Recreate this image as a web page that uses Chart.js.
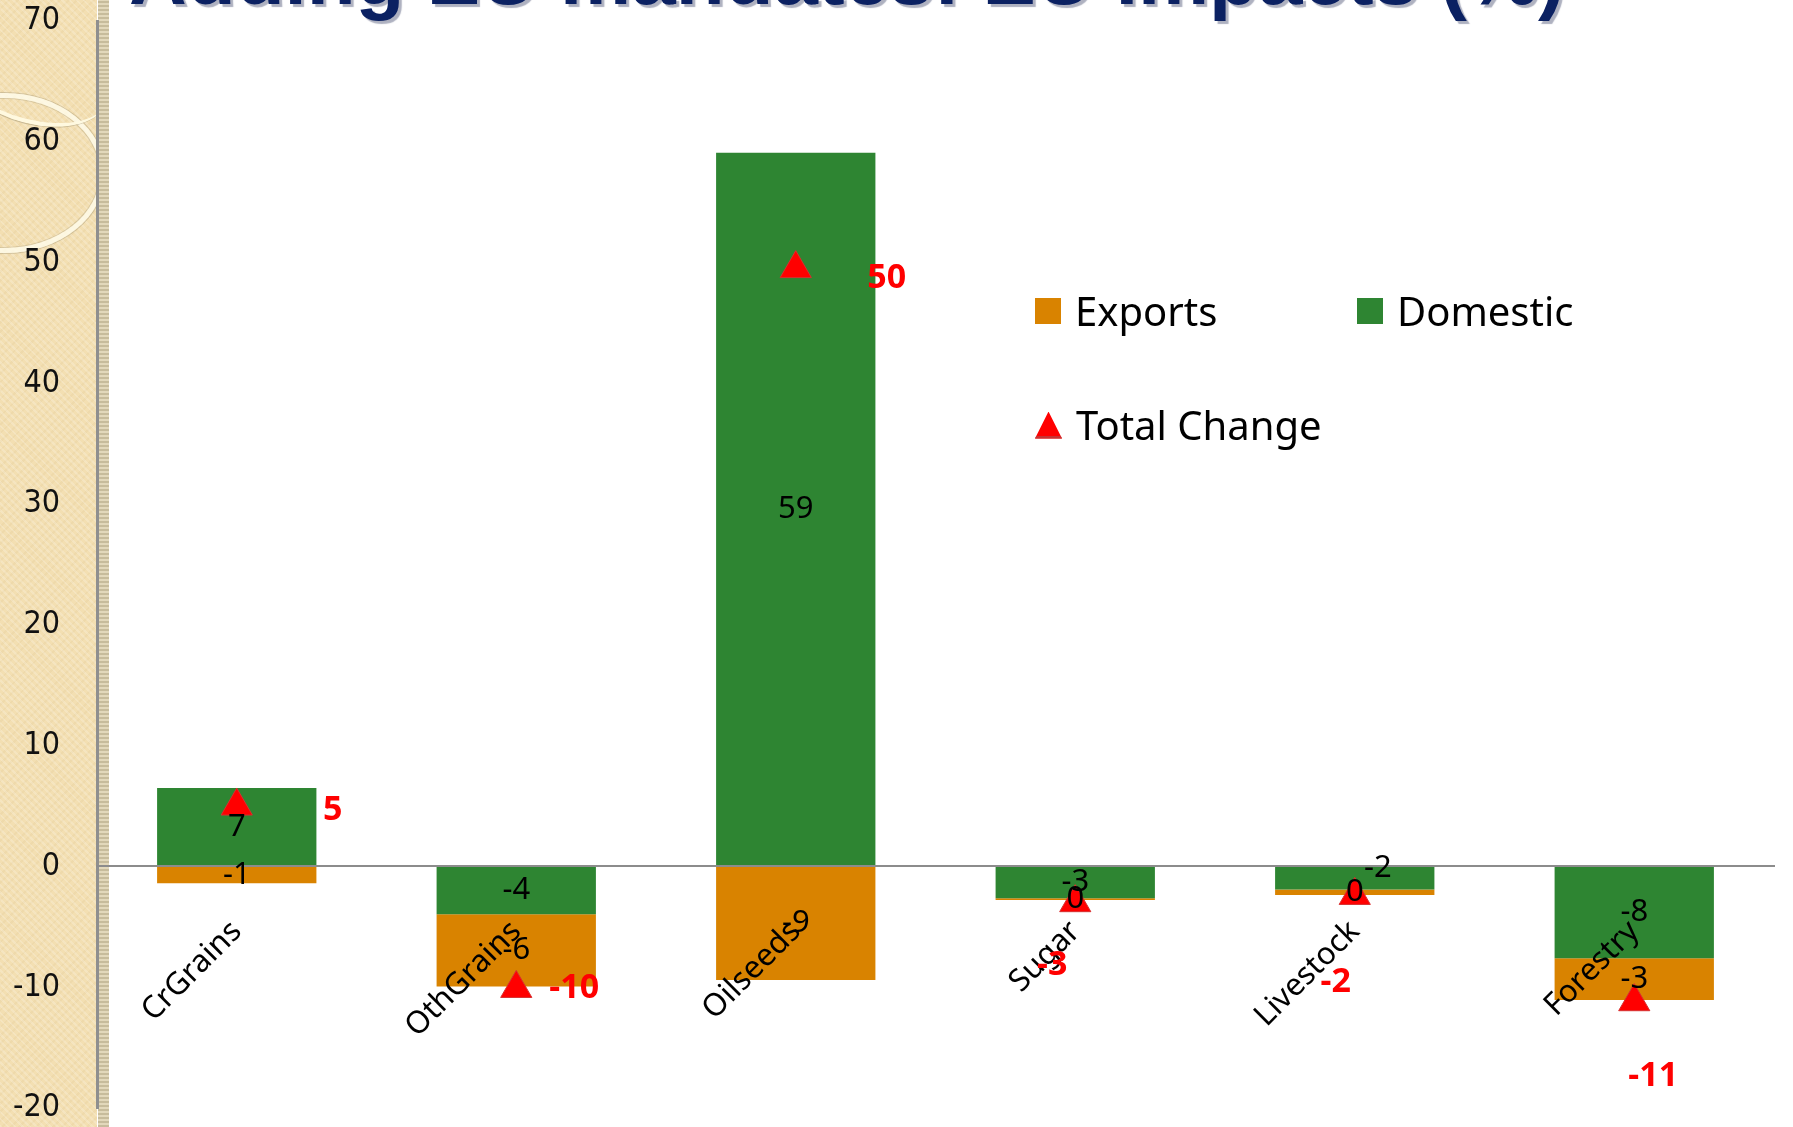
<!DOCTYPE html>
<html lang="en">
<head>
  <meta charset="UTF-8" />
  <title>Adding EU mandates: EU Impacts (%)</title>
  <script src="https://cdn.jsdelivr.net/npm/chart.js@4.4.1/dist/chart.umd.min.js"></script>
  <style>
    html, body {
      margin: 0;
      padding: 0;
      width: 1793px;
      height: 1127px;
      overflow: hidden;
      background: #fff;
    }

    /* beige side strip of the slide template */
    .strip {
      position: absolute;
      left: 0;
      top: 0;
      width: 97px;
      height: 1127px;
      overflow: hidden;
      background-color: #f3dfb2;
      background-image:
        repeating-linear-gradient(45deg, rgba(255,255,255,0.18) 0 2px, rgba(0,0,0,0) 2px 5px),
        repeating-linear-gradient(-45deg, rgba(200,170,110,0.10) 0 2px, rgba(0,0,0,0) 2px 6px);
    }
    .band {
      position: absolute;
      left: 98px;
      top: 0;
      width: 11px;
      height: 1127px;
      background: repeating-linear-gradient(0deg, #c7bc9c 0 2px, #e2d8bb 2px 4px);
    }
    .ring {
      position: absolute;
      left: -95px;
      top: 93px;
      width: 190px;
      height: 150px;
      border-radius: 50%;
      border: 5px solid rgba(255, 252, 236, 0.8);
      box-shadow: 0 0 0 1px rgba(170, 158, 125, 0.45), inset 0 0 0 1px rgba(170, 158, 125, 0.35);
    }
    .swoosh {
      position: absolute;
      left: -40px;
      top: 40px;
      width: 150px;
      height: 80px;
      border-radius: 50%;
      border-bottom: 4px solid rgba(255, 250, 225, 0.95);
      box-shadow: 0 2px 0 -1px rgba(160, 148, 115, 0.5);
      transform: rotate(14deg);
    }

    canvas {
      position: absolute;
      left: 0;
      top: 0;
    }

    /* title, top half is cut off in the original */
    .title {
      position: absolute;
      left: 129px;
      top: -63px;
      font: bold 80px 'Liberation Sans', Arial, sans-serif;
      line-height: 80px;
      color: #0b2162;
      text-shadow: 3px 3px 1px rgba(120, 125, 150, 0.6);
      white-space: nowrap;
    }

    /* legend inside the plot area */
    .legend-item {
      position: absolute;
      height: 40px;
      display: flex;
      align-items: center;
      gap: 14px;
      font: 40px 'Noto Sans', sans-serif;
      line-height: 40px;
      color: #000;
      white-space: nowrap;
    }
    .legend-item .sq {
      width: 26px;
      height: 26px;
    }
    .legend-item .tri {
      width: 27px;
      height: 27px;
      background: #ff0000;
      clip-path: polygon(50% 0, 100% 100%, 0 100%);
      box-shadow: inset 0 -3px 0 #c83232;
    }
  </style>
</head>
<body>
  <div class="strip"><div class="ring"></div><div class="swoosh"></div></div>
  <div class="band"></div>

  <canvas id="impactChart" width="1793" height="1127"></canvas>

  <div class="title">Adding EU mandates: EU Impacts (%)</div>

  <div class="legend-item" style="left:1035px; top:291px;"><span class="sq" style="background:#D98300"></span>Exports</div>
  <div class="legend-item" style="left:1357px; top:291px;"><span class="sq" style="background:#2E8532"></span>Domestic</div>
  <div class="legend-item" style="left:1035px; top:405px;"><span class="tri"></span>Total Change</div>

  <script>
    // Daten (Prozentänderung)
    const categories = ['CrGrains', 'OthGrains', 'Oilseeds', 'Sugar', 'Livestock', 'Forestry'];
    const domesticPct = [6.5, -3.95, 59.1, -2.64, -1.9, -7.6];
    const exportsPct = [-1.4, -6.0, -9.4, -0.14, -0.47, -3.45];
    const totalChange = [5.0, -10.1, 49.5, -3.0, -2.4, -11.2];
    const yTicks = [-20, -10, 0, 10, 20, 30, 40, 50, 60, 70];

    const ORANGE = '#D98300';
    const GREEN = '#2E8532';
    const RED = '#FF0000';

    // value labels, drawn on top of everything
    const valueLabels = {
      id: 'valueLabels',
      afterDraw(chart) {
        const ctx = chart.ctx;
        ctx.save();
        ctx.textAlign = 'center';
        ctx.textBaseline = 'middle';
        chart.data.datasets.forEach((ds, di) => {
          const meta = chart.getDatasetMeta(di);
          const lab = ds.valueLabel;
          if (!lab) return;
          ctx.font = lab.font;
          ctx.fillStyle = lab.color;
          meta.data.forEach((el, i) => {
            let x, y;
            if (meta.type === 'bar') {
              const p = el.getProps(['x', 'y', 'base'], true);
              x = p.x;
              y = (p.y + p.base) / 2;
            } else {
              x = el.x;
              y = el.y;
            }
            const off = (lab.offsets && lab.offsets[i]) || [0, 0];
            const txt = String(Math.round(ds.data[i]));
            ctx.fillText(txt === '-0' ? '0' : txt, x + off[0], y + off[1]);
          });
        });
        ctx.restore();
      }
    };

    const ctx = document.getElementById('impactChart').getContext('2d');
    new Chart(ctx, {
      type: 'bar',
      data: {
        labels: categories,
        datasets: [
          {
            label: 'Domestic',
            data: domesticPct,
            backgroundColor: GREEN,
            barPercentage: 0.57,
            categoryPercentage: 1,
            order: 2,
            valueLabel: {
              font: '31px "Noto Sans"',
              color: '#000',
              offsets: { 4: [23, -10] }
            }
          },
          {
            label: 'Exports',
            data: exportsPct,
            backgroundColor: ORANGE,
            barPercentage: 0.57,
            categoryPercentage: 1,
            order: 3,
            valueLabel: {
              font: '31px "Noto Sans"',
              color: '#000'
            }
          },
          {
            type: 'line',
            label: 'Total Change',
            data: totalChange,
            showLine: false,
            pointStyle: 'triangle',
            pointRadius: 18,
            pointBackgroundColor: RED,
            pointBorderColor: '#d63030',
            pointBorderWidth: 1,
            order: 1,
            valueLabel: {
              font: 'bold 34px "Noto Sans"',
              color: RED,
              offsets: [[96, 4], [58, 0], [91, 10], [-23, 63], [-19, 87], [19, 75]]
            }
          }
        ]
      },
      options: {
        responsive: false,
        animation: false,
        layout: { padding: { left: 12, right: 14, top: 21, bottom: 10 } },
        scales: {
          x: {
            stacked: true,
            position: { y: 0 },
            grid: { display: false, drawTicks: false },
            border: { color: '#8c8c8c', width: 2, z: 1 },
            ticks: {
              z: 1,
              autoSkip: false,
              minRotation: 45,
              maxRotation: 45,
              padding: 47,
              color: '#000',
              font: { family: 'Noto Sans', size: 31 }
            }
          },
          y: {
            stacked: true,
            min: -20,
            max: 70,
            afterBuildTicks: scale => { scale.ticks = yTicks.map(v => ({ value: v })); },
            afterFit: scale => { scale.width = 85; },
            // invisible tick marks keep the labels away from the axis line
            grid: { display: false, drawTicks: true, tickLength: 37, tickColor: 'rgba(0,0,0,0)' },
            border: { color: '#8f8f8f', width: 3 },
            ticks: {
              padding: 0,
              color: '#111',
              font: { family: 'DejaVu Sans Condensed', size: 32, lineHeight: 1 }
            }
          }
        },
        plugins: {
          legend: { display: false },
          tooltip: { enabled: false }
        }
      },
      plugins: [valueLabels]
    });
  </script>
</body>
</html>
